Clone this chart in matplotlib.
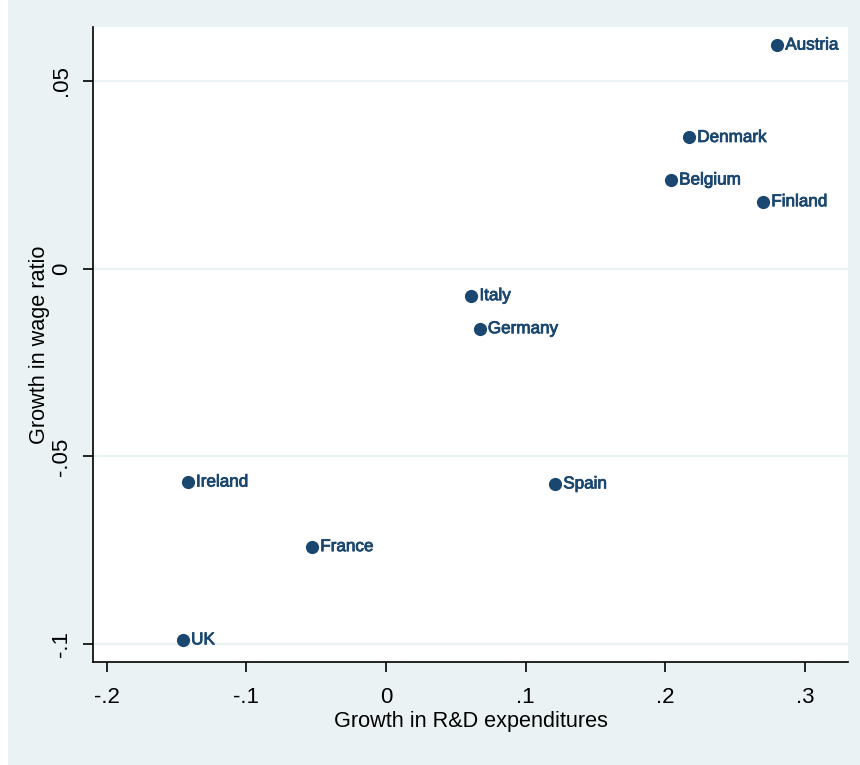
import matplotlib.pyplot as plt
import matplotlib.patheffects as pe

# growth in R&D expenditures vs growth in wage ratio, by country
countries = ["Austria", "Denmark", "Belgium", "Finland", "Italy", "Germany",
             "Spain", "Ireland", "France", "UK"]
rd_growth = [0.280, 0.217, 0.204, 0.270, 0.061, 0.067, 0.121, -0.142, -0.053, -0.1455]
wage_growth = [0.0595, 0.0349, 0.0236, 0.0178, -0.0072, -0.0160, -0.0573, -0.0568, -0.0740, -0.0988]

x_ticks = [-0.2, -0.1, 0, 0.1, 0.2, 0.3]
x_labels = ["-.2", "-.1", "0", ".1", ".2", ".3"]
y_ticks = [-0.1, -0.05, 0, 0.05]
y_labels = ["-.1", "-.05", "0", ".05"]

navy = "#1a476f"
bg = "#eaf2f3"

plt.rcParams["font.family"] = ["Liberation Sans", "DejaVu Sans"]

fig = plt.figure(figsize=(8.6, 7.65), dpi=100)
fig.patch.set_facecolor(bg)
# thin white strip on the left edge
fig.add_artist(plt.Rectangle((0, 0), 8 / 860, 1, transform=fig.transFigure,
                             facecolor="white", edgecolor="none"))

ax = fig.add_axes([93 / 860, 103 / 765, 755 / 860, 635 / 765])
ax.set_facecolor("white")

for y in y_ticks:
    ax.axhline(y, color=bg, linewidth=1.6, zorder=1)

ax.plot(rd_growth, wage_growth, "o", color=navy, markersize=9.5,
        markeredgewidth=0, zorder=3)
for name, x, y in zip(countries, rd_growth, wage_growth):
    ax.annotate(name, (x, y), xytext=(6, 0), textcoords="offset points",
                ha="left", va="center", color=navy, fontsize=12.3,
                path_effects=[pe.withStroke(linewidth=0.6, foreground=navy)])

ax.set_xlim(-0.2098, 0.3309)
ax.set_ylim(-0.1047, 0.0643)

ax.set_xticks(x_ticks)
ax.set_xticklabels(x_labels, fontsize=16)
ax.set_yticks(y_ticks)
ax.set_yticklabels(y_labels, fontsize=16, rotation=90, va="center")
ax.tick_params(direction="out", length=7, width=1.2, color="black")
ax.tick_params(axis="x", pad=11)
ax.tick_params(axis="y", pad=8)

for side in ["top", "right"]:
    ax.spines[side].set_visible(False)
for side in ["left", "bottom"]:
    ax.spines[side].set_linewidth(1.2)

ax.set_xlabel("Growth in R&D expenditures", fontsize=15.6, labelpad=2)
ax.set_ylabel("Growth in wage ratio", fontsize=15.6, labelpad=1)

fig.savefig("out.png", dpi=100, facecolor=bg)
